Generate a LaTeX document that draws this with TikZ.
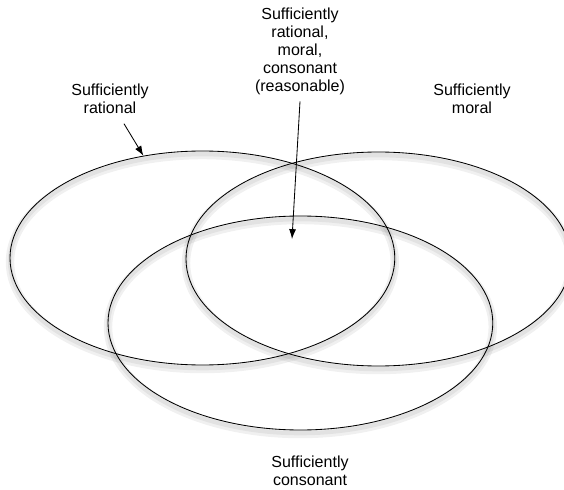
\documentclass[tikz,border=0pt]{standalone}
\usepackage{fontspec}
\setmainfont{Liberation Sans}
\usepackage{tikz}
\usetikzlibrary{arrows.meta,positioning,shapes.geometric}
\tikzset{
  venn/.style={draw,ellipse,minimum width=9.62cm,minimum height=5.35cm,inner sep=0pt,line width=0.6pt},
  haze/.style={draw=black,line width=#1,opacity=0.06},
  lbl/.style={align=center,inner sep=0pt,font=\fontsize{11.4}{12.8}\selectfont},
  pointer/.style={-{Latex[length=7pt,width=5pt]},line width=0.6pt}
}

\begin{document}
\begin{tikzpicture}[x=1cm,y=1cm]
  \useasboundingbox (0,0) rectangle (14.1,12.225);
  % soft shadows under the rings
  \foreach \nm/\cx/\cy in {rat/5.06/5.775,mor/9.46/5.75,con/7.51/4.15}{
    \draw[haze=6pt] (\cx,\cy-0.1) ellipse [x radius=4.81,y radius=2.675];
    \draw[haze=3pt] (\cx,\cy-0.08) ellipse [x radius=4.81,y radius=2.675];
  }
  \foreach \nm/\cx/\cy in {rat/5.06/5.775,mor/9.46/5.75,con/7.51/4.15}
    \node[venn] (\nm) at (\cx,\cy) {};
  % labels
  \node[lbl,anchor=north] (alllbl) at (7.5,12.04) {Sufficiently\\rational,\\moral,\\consonant\\(reasonable)};
  \node[lbl,anchor=north] (ratlbl) at (2.75,10.14) {Sufficiently\\rational};
  \node[lbl,anchor=north] (morlbl) at (11.8,10.14) {Sufficiently\\moral};
  \node[lbl,anchor=north] (conlbl) at (7.75,0.8425) {Sufficiently\\consonant};
  \coordinate (core) at (7.3,6.25);
  \draw[pointer] ([shift={(0.35,-0.25)}]ratlbl.south) -- (rat.120);
  \draw[pointer] ([yshift=-4.7pt]alllbl.south) -- (core);
\end{tikzpicture}
\end{document}
